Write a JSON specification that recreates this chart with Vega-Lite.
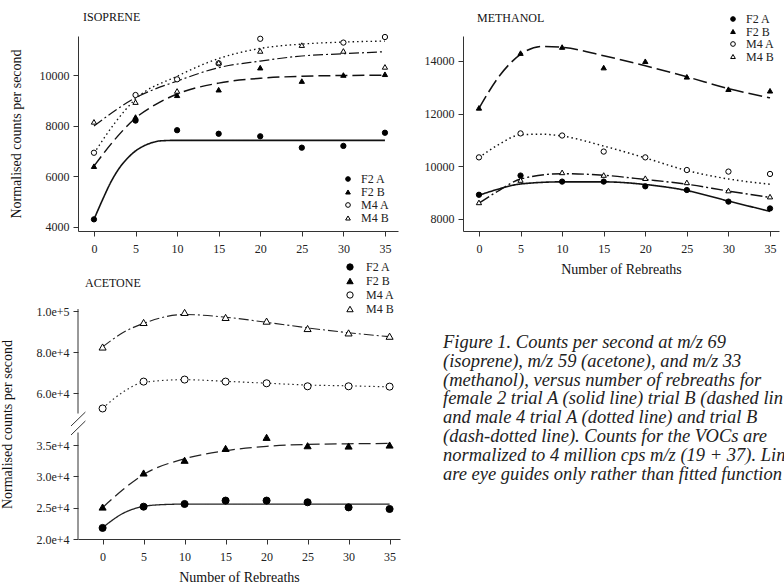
{
"$schema": "https://vega.github.io/schema/vega-lite/v6.json",
"background": "white",
"padding": {"left": 0, "top": 11, "right": 0, "bottom": 0},
"config": {
  "font": "Liberation Serif",
  "view": {"stroke": null},
  "axis": {"grid": false, "domainColor": "#333", "domainWidth": 1, "tickColor": "#333", "tickSize": 5, "labelPadding": 4, "labelFont": "Liberation Serif", "labelFontSize": 12, "labelColor": "#222", "labelOverlap": false, "titleFont": "Liberation Serif", "titleFontSize": 14, "titleFontWeight": "normal", "titleColor": "#111"},
  "axisX": {"labelPadding": 7},
  "legend": {"labelFont": "Liberation Serif", "labelFontSize": 12, "labelColor": "#222", "padding": 0, "rowPadding": 0, "labelOffset": 7, "symbolStrokeColor": "black", "symbolStrokeWidth": 1},
  "title": {"font": "Liberation Serif", "fontSize": 12, "fontWeight": "normal", "anchor": "start", "color": "#111", "frame": "group"}
},
"datasets": {
  "iso": [
    {"series":"F2 A","x":0,"y":4300},{"series":"F2 A","x":5,"y":8200},{"series":"F2 A","x":10,"y":7820},{"series":"F2 A","x":15,"y":7680},{"series":"F2 A","x":20,"y":7580},{"series":"F2 A","x":25,"y":7130},{"series":"F2 A","x":30,"y":7200},{"series":"F2 A","x":35,"y":7720},
    {"series":"F2 B","x":0,"y":6400},{"series":"F2 B","x":5,"y":8340},{"series":"F2 B","x":10,"y":9200},{"series":"F2 B","x":15,"y":9420},{"series":"F2 B","x":20,"y":10290},{"series":"F2 B","x":25,"y":9760},{"series":"F2 B","x":30,"y":10000},{"series":"F2 B","x":35,"y":10030},
    {"series":"M4 A","x":0,"y":6930},{"series":"M4 A","x":5,"y":9210},{"series":"M4 A","x":10,"y":9830},{"series":"M4 A","x":15,"y":10460},{"series":"M4 A","x":20,"y":11430},{"series":"M4 A","x":30,"y":11280},{"series":"M4 A","x":35,"y":11500},
    {"series":"M4 B","x":0,"y":8150},{"series":"M4 B","x":5,"y":8930},{"series":"M4 B","x":10,"y":9370},{"series":"M4 B","x":15,"y":10490},{"series":"M4 B","x":20,"y":10950},{"series":"M4 B","x":25,"y":11180},{"series":"M4 B","x":30,"y":10950},{"series":"M4 B","x":35,"y":10320}
  ],
  "isoFit": [
    {"series":"F2 A","x":0,"y":4300},{"series":"F2 A","x":1,"y":5050},{"series":"F2 A","x":2,"y":5750},{"series":"F2 A","x":3,"y":6300},{"series":"F2 A","x":4,"y":6700},{"series":"F2 A","x":5,"y":7000},{"series":"F2 A","x":6,"y":7200},{"series":"F2 A","x":7,"y":7330},{"series":"F2 A","x":8,"y":7400},{"series":"F2 A","x":10,"y":7420},{"series":"F2 A","x":15,"y":7420},{"series":"F2 A","x":20,"y":7420},{"series":"F2 A","x":25,"y":7420},{"series":"F2 A","x":30,"y":7420},{"series":"F2 A","x":35,"y":7420},
    {"series":"F2 B","x":0,"y":6400},{"series":"F2 B","x":2.5,"y":7450},{"series":"F2 B","x":5,"y":8300},{"series":"F2 B","x":7.5,"y":8850},{"series":"F2 B","x":10,"y":9250},{"series":"F2 B","x":15,"y":9680},{"series":"F2 B","x":20,"y":9870},{"series":"F2 B","x":25,"y":9950},{"series":"F2 B","x":30,"y":9980},{"series":"F2 B","x":35,"y":9990},
    {"series":"M4 A","x":0,"y":6900},{"series":"M4 A","x":2.5,"y":8100},{"series":"M4 A","x":5,"y":9050},{"series":"M4 A","x":10,"y":9950},{"series":"M4 A","x":15,"y":10650},{"series":"M4 A","x":20,"y":11050},{"series":"M4 A","x":25,"y":11220},{"series":"M4 A","x":30,"y":11300},{"series":"M4 A","x":35,"y":11340},
    {"series":"M4 B","x":0,"y":7990},{"series":"M4 B","x":5,"y":9100},{"series":"M4 B","x":10,"y":9760},{"series":"M4 B","x":15,"y":10290},{"series":"M4 B","x":20,"y":10550},{"series":"M4 B","x":25,"y":10750},{"series":"M4 B","x":30,"y":10840},{"series":"M4 B","x":35,"y":10920}
  ],
  "meth": [
    {"series":"F2 A","x":0,"y":8920},{"series":"F2 A","x":5,"y":9650},{"series":"F2 A","x":10,"y":9420},{"series":"F2 A","x":15,"y":9420},{"series":"F2 A","x":20,"y":9240},{"series":"F2 A","x":25,"y":9100},{"series":"F2 A","x":30,"y":8660},{"series":"F2 A","x":35,"y":8400},
    {"series":"F2 B","x":0,"y":12220},{"series":"F2 B","x":5,"y":14300},{"series":"F2 B","x":10,"y":14530},{"series":"F2 B","x":15,"y":13750},{"series":"F2 B","x":20,"y":13990},{"series":"F2 B","x":25,"y":13400},{"series":"F2 B","x":30,"y":12930},{"series":"F2 B","x":35,"y":12870},
    {"series":"M4 A","x":0,"y":10340},{"series":"M4 A","x":5,"y":11250},{"series":"M4 A","x":10,"y":11170},{"series":"M4 A","x":15,"y":10560},{"series":"M4 A","x":20,"y":10340},{"series":"M4 A","x":25,"y":9860},{"series":"M4 A","x":30,"y":9800},{"series":"M4 A","x":35,"y":9710},
    {"series":"M4 B","x":0,"y":8630},{"series":"M4 B","x":5,"y":9480},{"series":"M4 B","x":10,"y":9770},{"series":"M4 B","x":15,"y":9670},{"series":"M4 B","x":20,"y":9550},{"series":"M4 B","x":25,"y":9390},{"series":"M4 B","x":30,"y":9080},{"series":"M4 B","x":35,"y":8850}
  ],
  "methFit": [
    {"series":"F2 A","x":0,"y":8900},{"series":"F2 A","x":2.5,"y":9150},{"series":"F2 A","x":5,"y":9330},{"series":"F2 A","x":10,"y":9410},{"series":"F2 A","x":15,"y":9410},{"series":"F2 A","x":20,"y":9310},{"series":"F2 A","x":25,"y":9080},{"series":"F2 A","x":30,"y":8680},{"series":"F2 A","x":35,"y":8290},
    {"series":"F2 B","x":0,"y":12200},{"series":"F2 B","x":2.5,"y":13450},{"series":"F2 B","x":5,"y":14250},{"series":"F2 B","x":7.5,"y":14550},{"series":"F2 B","x":10,"y":14520},{"series":"F2 B","x":15,"y":14200},{"series":"F2 B","x":20,"y":13820},{"series":"F2 B","x":25,"y":13400},{"series":"F2 B","x":30,"y":12950},{"series":"F2 B","x":35,"y":12600},
    {"series":"M4 A","x":0,"y":10330},{"series":"M4 A","x":2.5,"y":10850},{"series":"M4 A","x":5,"y":11200},{"series":"M4 A","x":7.5,"y":11220},{"series":"M4 A","x":10,"y":11150},{"series":"M4 A","x":15,"y":10770},{"series":"M4 A","x":20,"y":10320},{"series":"M4 A","x":25,"y":9840},{"series":"M4 A","x":30,"y":9520},{"series":"M4 A","x":35,"y":9320},
    {"series":"M4 B","x":0,"y":8600},{"series":"M4 B","x":2.5,"y":9100},{"series":"M4 B","x":5,"y":9520},{"series":"M4 B","x":10,"y":9720},{"series":"M4 B","x":15,"y":9660},{"series":"M4 B","x":20,"y":9500},{"series":"M4 B","x":25,"y":9320},{"series":"M4 B","x":30,"y":9060},{"series":"M4 B","x":35,"y":8820}
  ],
  "ace": [
    {"series":"F2 A","x":0,"y":21770},{"series":"F2 A","x":5,"y":25160},{"series":"F2 A","x":10,"y":25590},{"series":"F2 A","x":15,"y":26130},{"series":"F2 A","x":20,"y":26130},{"series":"F2 A","x":25,"y":25860},{"series":"F2 A","x":30,"y":25050},{"series":"F2 A","x":35,"y":24790},
    {"series":"F2 B","x":0,"y":25100},{"series":"F2 B","x":5,"y":30540},{"series":"F2 B","x":10,"y":32570},{"series":"F2 B","x":15,"y":34460},{"series":"F2 B","x":20,"y":36230},{"series":"F2 B","x":25,"y":34890},{"series":"F2 B","x":30,"y":34840},{"series":"F2 B","x":35,"y":35000},
    {"series":"M4 A","x":0,"y":52460},{"series":"M4 A","x":5,"y":65570},{"series":"M4 A","x":10,"y":66560},{"series":"M4 A","x":15,"y":65570},{"series":"M4 A","x":20,"y":64750},{"series":"M4 A","x":25,"y":63280},{"series":"M4 A","x":30,"y":63280},{"series":"M4 A","x":35,"y":63120},
    {"series":"M4 B","x":0,"y":82460},{"series":"M4 B","x":5,"y":94430},{"series":"M4 B","x":10,"y":99340},{"series":"M4 B","x":15,"y":96890},{"series":"M4 B","x":20,"y":95080},{"series":"M4 B","x":25,"y":91480},{"series":"M4 B","x":30,"y":89340},{"series":"M4 B","x":35,"y":87710}
  ],
  "aceFit": [
    {"series":"F2 A","x":0,"y":21800},{"series":"F2 A","x":2.5,"y":24100},{"series":"F2 A","x":5,"y":25200},{"series":"F2 A","x":7.5,"y":25500},{"series":"F2 A","x":10,"y":25570},{"series":"F2 A","x":15,"y":25570},{"series":"F2 A","x":20,"y":25570},{"series":"F2 A","x":25,"y":25570},{"series":"F2 A","x":30,"y":25570},{"series":"F2 A","x":35,"y":25570},
    {"series":"F2 B","x":0,"y":25000},{"series":"F2 B","x":2.5,"y":27900},{"series":"F2 B","x":5,"y":30300},{"series":"F2 B","x":10,"y":32800},{"series":"F2 B","x":15,"y":34100},{"series":"F2 B","x":20,"y":34800},{"series":"F2 B","x":25,"y":35100},{"series":"F2 B","x":30,"y":35200},{"series":"F2 B","x":35,"y":35250},
    {"series":"M4 A","x":0,"y":52500},{"series":"M4 A","x":2.5,"y":60500},{"series":"M4 A","x":5,"y":65200},{"series":"M4 A","x":10,"y":66500},{"series":"M4 A","x":15,"y":65700},{"series":"M4 A","x":20,"y":64800},{"series":"M4 A","x":25,"y":63900},{"series":"M4 A","x":30,"y":63500},{"series":"M4 A","x":35,"y":63000},
    {"series":"M4 B","x":0,"y":82500},{"series":"M4 B","x":2.5,"y":89500},{"series":"M4 B","x":5,"y":94000},{"series":"M4 B","x":10,"y":98300},{"series":"M4 B","x":15,"y":97000},{"series":"M4 B","x":20,"y":94500},{"series":"M4 B","x":25,"y":91800},{"series":"M4 B","x":30,"y":89400},{"series":"M4 B","x":35,"y":87500}
  ],
  "caption": [
    {"caption": "Figure 1. Counts per second at m/z 69\n(isoprene), m/z 59 (acetone), and m/z 33\n(methanol), versus number of rebreaths for\nfemale 2 trial A (solid line) trial B (dashed line)\nand male 4 trial A (dotted line) and trial B\n(dash-dotted line). Counts for the VOCs are\nnormalized to 4 million cps m/z (19 + 37). Lines\nare eye guides only rather than fitted functions."}
  ]
},
"spacing": 24,
"resolve": {"scale": {"shape": "independent", "fill": "independent", "stroke": "independent", "strokeDash": "independent", "strokeWidth": "independent"}, "legend": {"shape": "independent", "fill": "independent", "stroke": "independent"}},
"hconcat": [
  {"concat": [
    {"title": {"text": "ISOPRENE", "dx": 5, "offset": 8},
     "width": 320, "height": 195,
     "layer": [
      {"data": {"name": "isoFit"},
       "mark": {"type": "line", "interpolate": "monotone", "color": "#111"},
       "encoding": {
         "x": {"field": "x", "type": "quantitative", "scale": {"domain": [-1.92, 36.57], "nice": false, "zero": false}, "axis": {"values": [0,5,10,15,20,25,30,35], "title": null}},
         "y": {"field": "y", "type": "quantitative", "scale": {"domain": [3840, 11540], "nice": false, "zero": false}, "axis": {"values": [4000,6000,8000,10000], "format": "d", "title": "Normalised counts per second", "titlePadding": 16}},
         "strokeDash": {"field": "series", "type": "nominal", "scale": {"range": [[1,0],[12,5],[1.5,3],[10,3,2,3]]}, "legend": null},
         "strokeWidth": {"field": "series", "type": "nominal", "scale": {"range": [1.6,1.2,1.2,1.2]}, "legend": null}
       }},
      {"data": {"name": "iso"},
       "mark": {"type": "point", "filled": true, "strokeWidth": 1, "size": 28, "opacity": 1},
       "encoding": {
         "x": {"field": "x", "type": "quantitative"},
         "y": {"field": "y", "type": "quantitative"},
         "shape": {"field": "series", "type": "nominal", "scale": {"domain": ["F2 A","F2 B","M4 A","M4 B"], "range": ["circle","triangle-up","circle","triangle-up"]}, "legend": {"title": null, "orient": "none", "legendX": 264, "legendY": 137, "symbolSize": 22, "rowPadding": 1}},
         "fill": {"field": "series", "type": "nominal", "scale": {"domain": ["F2 A","F2 B","M4 A","M4 B"], "range": ["black","black","white","white"]}, "legend": {"title": null, "orient": "none", "legendX": 264, "legendY": 137, "symbolSize": 22, "rowPadding": 1}},
         "stroke": {"field": "series", "type": "nominal", "scale": {"domain": ["F2 A","F2 B","M4 A","M4 B"], "range": ["black","black","black","black"]}, "legend": {"title": null, "orient": "none", "legendX": 264, "legendY": 137, "symbolSize": 22, "rowPadding": 1}}
       }}
     ]
    },
    {"title": {"text": "ACETONE", "dx": 7, "offset": -29},
     "width": 322, "height": 230,
     "layer": [
      {"data": {"name": "aceFit"},
       "mark": {"type": "line", "interpolate": "monotone", "color": "#222"},
       "encoding": {
         "x": {"field": "x", "type": "quantitative", "scale": {"domain": [-3.0, 36.27], "nice": false, "zero": false}, "axis": {"values": [0,5,10,15,20,25,30,35], "title": "Number of Rebreaths", "titlePadding": 8}},
         "y": {"field": "y", "type": "quantitative", "scale": {"domain": [20000, 37000, 50000, 101000], "range": [230, 123.5, 104.5, 0], "nice": false, "zero": false}, "axis": {"values": [20000,25000,30000,35000,60000,80000,100000], "tickCount": 20, "format": ".1e", "domain": false, "title": "Normalised counts per second", "titlePadding": 21}},
         "strokeDash": {"field": "series", "type": "nominal", "scale": {"range": [[1,0],[12,5],[1.5,3],[10,3,2,3]]}, "legend": null},
         "strokeWidth": {"field": "series", "type": "nominal", "scale": {"range": [1.3,1.1,1.1,1.1]}, "legend": null}
       }},
      {"data": {"name": "ace"},
       "mark": {"type": "point", "filled": true, "strokeWidth": 1, "size": 50, "opacity": 1},
       "encoding": {
         "x": {"field": "x", "type": "quantitative"},
         "y": {"field": "y", "type": "quantitative"},
         "shape": {"field": "series", "type": "nominal", "scale": {"domain": ["F2 A","F2 B","M4 A","M4 B"], "range": ["circle","triangle-up","circle","triangle-up"]}, "legend": {"title": null, "orient": "none", "legendX": 266, "legendY": -48, "symbolSize": 40, "rowPadding": 2, "labelOffset": 10}},
         "fill": {"field": "series", "type": "nominal", "scale": {"domain": ["F2 A","F2 B","M4 A","M4 B"], "range": ["black","black","white","white"]}, "legend": {"title": null, "orient": "none", "legendX": 266, "legendY": -48, "symbolSize": 40, "rowPadding": 2, "labelOffset": 10}},
         "stroke": {"field": "series", "type": "nominal", "scale": {"domain": ["F2 A","F2 B","M4 A","M4 B"], "range": ["black","black","black","black"]}, "legend": {"title": null, "orient": "none", "legendX": 266, "legendY": -48, "symbolSize": 40, "rowPadding": 2, "labelOffset": 10}}
       }},
      {"data": {"values": [{}]}, "mark": {"type": "rule", "color": "#333", "strokeWidth": 1},
       "encoding": {"x": {"datum": -3.0}, "y": {"datum": 20000}, "y2": {"datum": 37000}}},
      {"data": {"values": [{}]}, "mark": {"type": "rule", "color": "#333", "strokeWidth": 1},
       "encoding": {"x": {"datum": -3.0}, "y": {"datum": 50000}, "y2": {"datum": 101000}}},
      {"data": {"values": [{}]}, "mark": {"type": "rule", "color": "#333", "strokeWidth": 1},
       "encoding": {"x": {"datum": -3.85}, "x2": {"datum": -2.1}, "y": {"datum": 41450}, "y2": {"datum": 50700}}},
      {"data": {"values": [{}]}, "mark": {"type": "rule", "color": "#333", "strokeWidth": 1},
       "encoding": {"x": {"datum": -3.85}, "x2": {"datum": -2.1}, "y": {"datum": 36600}, "y2": {"datum": 44870}}}
     ]
    }
  ], "columns": 1, "align": "none", "spacing": 7,
     "resolve": {"scale": {"shape": "independent", "fill": "independent", "stroke": "independent", "strokeDash": "independent", "strokeWidth": "independent"}, "legend": {"shape": "independent", "fill": "independent", "stroke": "independent"}}},
  {"concat": [
    {"title": {"text": "METHANOL", "dx": 14, "offset": -12},
     "width": 316, "height": 195,
     "layer": [
      {"data": {"name": "methFit"},
       "mark": {"type": "line", "interpolate": "monotone", "color": "#111"},
       "encoding": {
         "x": {"field": "x", "type": "quantitative", "scale": {"domain": [-1.92, 36.08], "nice": false, "zero": false}, "axis": {"values": [0,5,10,15,20,25,30,35], "title": "Number of Rebreaths", "titlePadding": 8}},
         "y": {"field": "y", "type": "quantitative", "scale": {"domain": [7544, 14949], "nice": false, "zero": false}, "axis": {"values": [8000,10000,12000,14000], "format": "d", "title": null}},
         "strokeDash": {"field": "series", "type": "nominal", "scale": {"range": [[1,0],[14,5],[1.5,3],[12,3,2,3]]}, "legend": null},
         "strokeWidth": {"field": "series", "type": "nominal", "scale": {"range": [1.6,1.4,1.2,1.4]}, "legend": null}
       }},
      {"data": {"name": "meth"},
       "mark": {"type": "point", "filled": true, "strokeWidth": 1, "size": 28, "opacity": 1},
       "encoding": {
         "x": {"field": "x", "type": "quantitative"},
         "y": {"field": "y", "type": "quantitative"},
         "shape": {"field": "series", "type": "nominal", "scale": {"domain": ["F2 A","F2 B","M4 A","M4 B"], "range": ["circle","triangle-up","circle","triangle-up"]}, "legend": {"title": null, "orient": "none", "legendX": 264, "legendY": -23, "symbolSize": 22, "rowPadding": 0.5}},
         "fill": {"field": "series", "type": "nominal", "scale": {"domain": ["F2 A","F2 B","M4 A","M4 B"], "range": ["black","black","white","white"]}, "legend": {"title": null, "orient": "none", "legendX": 264, "legendY": -23, "symbolSize": 22, "rowPadding": 0.5}},
         "stroke": {"field": "series", "type": "nominal", "scale": {"domain": ["F2 A","F2 B","M4 A","M4 B"], "range": ["black","black","black","black"]}, "legend": {"title": null, "orient": "none", "legendX": 264, "legendY": -23, "symbolSize": 22, "rowPadding": 0.5}}
       }}
     ]
    },
    {"width": 343, "height": 160,
     "data": {"name": "caption"},
     "mark": {"type": "text", "align": "left", "baseline": "top", "lineBreak": "\n", "lineHeight": 18.8, "font": "Liberation Serif", "fontStyle": "italic", "fontSize": 18.5, "limit": 343, "ellipsis": "\u200b", "dx": -20, "color": "#222"},
     "encoding": {"text": {"field": "caption"}, "x": {"value": 0}, "y": {"value": 0}}
    }
  ], "columns": 1, "align": "none", "spacing": 57,
     "resolve": {"scale": {"shape": "independent", "fill": "independent", "stroke": "independent", "strokeDash": "independent", "strokeWidth": "independent"}, "legend": {"shape": "independent", "fill": "independent", "stroke": "independent"}}}
]
}
